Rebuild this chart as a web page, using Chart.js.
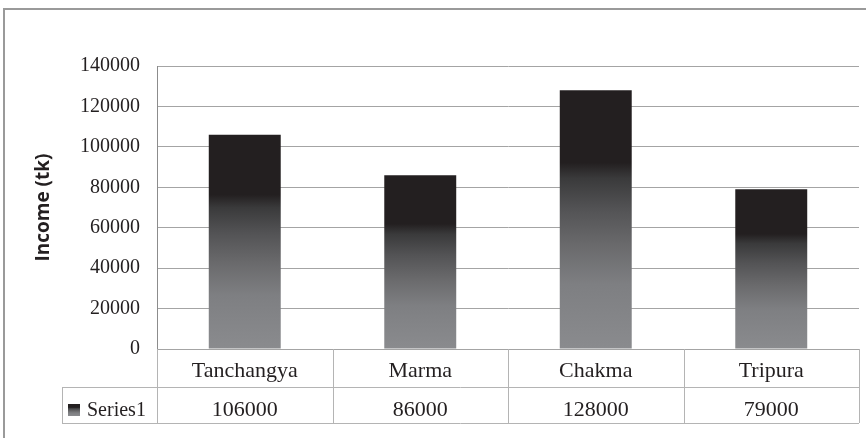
<!DOCTYPE html>
<html>
<head>
<meta charset="utf-8">
<title>Income by group</title>
<script src="https://cdn.jsdelivr.net/npm/chart.js@4"></script>
<style>
  html, body { margin: 0; padding: 0; background: #fff; }
  #wrap { width: 866px; height: 438px; position: relative; }
</style>
</head>
<body>
<div id="wrap"><canvas id="myChart"></canvas></div>
<script>
const categories = ["Tanchangya", "Marma", "Chakma", "Tripura"];
const income = [106000, 86000, 128000, 79000];
const series_name = "Series1";
const axis_title = "Income (tk)";

const serif = "'Liberation Serif', 'Times New Roman', serif";

// dark top third fading into grey at the base, as each bar is filled
let bar_gradient = (ctx2d, top, bottom) => {
  let g = ctx2d.createLinearGradient(0, top, 0, bottom);
  g.addColorStop(0, "#231f20");
  g.addColorStop(0.28, "#231f20");
  g.addColorStop(0.34, "#3a3a3b");
  g.addColorStop(0.46, "#535355");
  g.addColorStop(0.6, "#6a6a6c");
  g.addColorStop(0.75, "#7e7f82");
  g.addColorStop(1, "#8a8b8e");
  return g;
};

// outer frame of the chart box
const frame = {
  id: "frame",
  beforeDraw(chart) {
    const c = chart.ctx;
    c.save();
    c.fillStyle = "#fff";
    c.fillRect(0, 0, chart.width, chart.height);
    c.strokeStyle = "#9a9a9a";
    c.lineWidth = 2;
    c.beginPath();
    c.moveTo(4, chart.height);
    c.lineTo(4, 9);
    c.lineTo(chart.width, 9);
    c.stroke();
    c.restore();
  },
};

// data table under the plot: category row + value row with legend key
const dataTable = {
  id: "dataTable",
  afterDraw(chart) {
    const c = chart.ctx;
    const area = chart.chartArea;
    const xs = chart.scales.x;
    const n = categories.length;
    const cell = area.width / n;
    const row1 = area.bottom;
    const row2 = row1 + 38;
    const row3 = row2 + 36;
    const keyLeft = 62;

    c.save();
    c.strokeStyle = "#b4b4b4";
    c.lineWidth = 1;
    c.beginPath();
    // horizontal rules
    c.moveTo(keyLeft, row2 + 0.5);
    c.lineTo(area.right, row2 + 0.5);
    c.moveTo(keyLeft, row3 + 0.5);
    c.lineTo(area.right, row3 + 0.5);
    // verticals between categories
    for (let i = 0; i <= n; i++) {
      let x = Math.round(area.left + i * cell) + 0.5;
      c.moveTo(x, row1);
      c.lineTo(x, row3);
    }
    c.moveTo(keyLeft + 0.5, row2);
    c.lineTo(keyLeft + 0.5, row3);
    c.stroke();

    c.fillStyle = "#231f20";
    c.font = "22px " + serif;
    c.textAlign = "center";
    c.textBaseline = "alphabetic";
    categories.forEach((name, i) => {
      let cx = xs.getPixelForValue(i);
      c.fillText(name, cx, row1 + 28);
      c.fillText(String(income[i]), cx, row2 + 29);
    });

    // legend key
    c.fillStyle = bar_gradient(c, row2 + 17, row2 + 29);
    c.fillRect(keyLeft + 6, row2 + 17, 12, 12);
    c.fillStyle = "#231f20";
    c.font = "20px " + serif;
    c.textAlign = "left";
    c.fillText(series_name, keyLeft + 25, row2 + 29);
    c.restore();
  },
};

const ctx = document.getElementById("myChart").getContext("2d");

const myChart = new Chart(ctx, {
  type: "bar",
  data: {
    labels: categories,
    datasets: [
      {
        label: series_name,
        data: income,
        categoryPercentage: 1,
        barPercentage: 0.41,
        backgroundColor: (context) => {
          const chart = context.chart;
          const ys = chart.scales.y;
          if (!chart.chartArea || !ys || context.raw === undefined) {
            return "#555";
          }
          const top = ys.getPixelForValue(context.raw);
          const bottom = ys.getPixelForValue(0);
          return bar_gradient(chart.ctx, top, bottom);
        },
      },
    ],
  },
  options: {
    responsive: true,
    maintainAspectRatio: false,
    animation: false,
    layout: {
      padding: { top: 66, bottom: 89, left: 0, right: 7 },
    },
    plugins: {
      legend: { display: false },
      tooltip: { enabled: false },
    },
    scales: {
      x: {
        display: false,
      },
      y: {
        min: 0,
        max: 140000,
        afterFit: (scale) => {
          scale.width = 157;
        },
        ticks: {
          stepSize: 20000,
          padding: 17,
          color: "#231f20",
          font: { family: serif, size: 20 },
          callback: (value) => String(value),
        },
        grid: {
          color: "#a4a4a4",
          lineWidth: 1,
          drawTicks: false,
        },
        border: {
          display: true,
          color: "#8c8c8c",
          width: 1,
        },
        title: {
          display: true,
          text: axis_title,
          color: "#231f20",
          font: { family: "'Open Sans', sans-serif", size: 19, weight: "bold" },
          padding: { top: 32, bottom: 0 },
        },
      },
    },
  },
  plugins: [frame, dataTable],
});
</script>
</body>
</html>
